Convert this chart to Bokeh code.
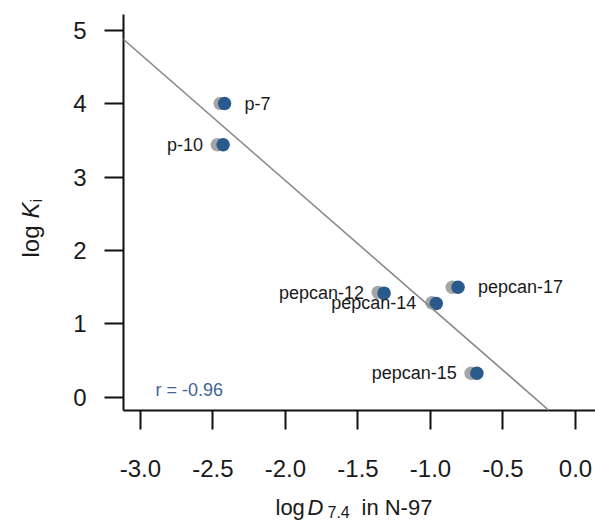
import math
from bokeh.plotting import figure
from bokeh.layouts import row, column
from bokeh.models import Slope, FixedTicker, ColumnDataSource, Range1d, Label
from bokeh.core.properties import value
from bokeh.embed import file_html
from bokeh.resources import INLINE

# ---------------- data ----------------
names = ["p-7", "p-10", "pepcan-12", "pepcan-14", "pepcan-17", "pepcan-15"]
blue_x = [-2.42, -2.43, -1.32, -0.96, -0.81, -0.68]
blue_y = [4.00, 3.44, 1.42, 1.28, 1.50, 0.33]
grey_x = [-2.45, -2.47, -1.36, -0.99, -0.85, -0.72]
grey_y = [4.00, 3.44, 1.43, 1.29, 1.50, 0.33]
label_side = ["right", "left", "left", "left", "right", "left"]

fit_slope = -1.72
fit_intercept = -0.49
r_text = "r = -0.96"

x_ticks = [-3.0, -2.5, -2.0, -1.5, -1.0, -0.5, 0.0]
x_tick_labels = ["-3.0", "-2.5", "-2.0", "-1.5", "-1.0", "-0.5", "0.0"]
y_ticks = [0, 1, 2, 3, 4, 5]
y_tick_labels = ["0", "1", "2", "3", "4", "5"]

x_title_parts = ["log", "D", "7.4", "in N-97"]
y_title_parts = ["log", "K", "i"]

FONT = "Liberation Sans"
BLUE = "#2a5a8c"
GREY = "#a5a5a5"
INK = "#1a1a1a"

LEFT_W = 70      # width of the strip holding the y title
BOTTOM_H = 32    # height of the strip holding the x title
W, H = 595, 520
TOP_H = H - BOTTOM_H


def blank(fig):
    fig.outline_line_color = None
    fig.grid.visible = False
    fig.border_fill_color = "white"
    fig.background_fill_color = "white"


# ---------------- main plot ----------------
p = figure(width=W - LEFT_W, height=TOP_H, output_backend="svg",
           toolbar_location=None,
           x_range=Range1d(-3.117, 0.138), y_range=Range1d(-0.177, 5.211),
           min_border_left=123 - LEFT_W, min_border_right=0, min_border_top=14,
           min_border_bottom=TOP_H - 410)
blank(p)

for ax in (p.xaxis[0], p.yaxis[0]):
    ax.axis_line_width = 2
    ax.axis_line_color = "#111111"
    ax.major_tick_line_width = 2
    ax.major_tick_line_color = "#111111"
    ax.major_tick_out = 19
    ax.major_tick_in = 0
    ax.minor_tick_line_color = None
    ax.major_label_text_font = FONT
    ax.major_label_text_font_size = "24px"
    ax.major_label_text_color = INK

p.xaxis.ticker = FixedTicker(ticks=x_ticks)
p.xaxis.major_label_overrides = {t: l for t, l in zip(x_ticks, x_tick_labels)}
p.xaxis.major_label_standoff = 30
p.yaxis.ticker = FixedTicker(ticks=y_ticks)
p.yaxis.major_label_overrides = {t: l for t, l in zip(y_ticks, y_tick_labels)}
p.yaxis.major_label_standoff = 18

# regression line
p.add_layout(Slope(gradient=fit_slope, y_intercept=fit_intercept,
                   line_color="#8a8a8a", line_width=1.6))

# points (grey shadow first, blue on top)
p.scatter(grey_x, grey_y, size=13.5, fill_color=GREY, line_color=None)
p.scatter(blue_x, blue_y, size=13.5, fill_color=BLUE, line_color=None)

# point labels
for side, off, align in (("right", 20, "left"), ("left", -20, "right")):
    idx = [i for i, s in enumerate(label_side) if s == side]
    src = ColumnDataSource(dict(x=[blue_x[i] for i in idx],
                                y=[blue_y[i] for i in idx],
                                t=[names[i] for i in idx]))
    p.text(x="x", y="y", text="t", source=src, x_offset=off, text_align=align,
           text_baseline="middle", text_font=value(FONT),
           text_font_size="18px", text_color=INK)

# r annotation
p.add_layout(Label(x=32, y=21, x_units="screen", y_units="screen", text=r_text,
                   text_font=FONT, text_font_size="18px", text_color="#3f6496",
                   text_baseline="middle", text_align="left"))

# ---------------- y title strip (left of the plot) ----------------
yf = figure(title=None, width=LEFT_W, height=TOP_H, frame_width=LEFT_W,
            frame_height=TOP_H, output_backend="svg", toolbar_location=None,
            x_axis_type=None, y_axis_type=None,
            x_range=Range1d(0, LEFT_W), y_range=Range1d(TOP_H, 0), min_border=0)
blank(yf)
y_title_pos = [(30, 243, "24px", "normal"), (30, 204, "24px", "italic"),
               (36, 188, "17px", "normal")]
for txt, (tx, ty, fs, st) in zip(y_title_parts, y_title_pos):
    yf.text(x=[tx], y=[ty], text=[txt], angle=math.pi / 2, text_align="left",
            text_baseline="middle", text_font=value(FONT),
            text_font_size=fs, text_font_style=st, text_color=INK)

# ---------------- x title strip (full width, bottom) ----------------
xf = figure(title=None, width=W, height=BOTTOM_H, frame_width=W,
            frame_height=BOTTOM_H, output_backend="svg", toolbar_location=None,
            x_axis_type=None, y_axis_type=None,
            x_range=Range1d(0, W), y_range=Range1d(H, TOP_H), min_border=0)
blank(xf)
x_title_pos = [(275, 507, "22px", "normal"), (307, 507, "22px", "italic"),
               (327, 511, "16px", "normal"), (361, 507, "22px", "normal")]
for txt, (tx, ty, fs, st) in zip(x_title_parts, x_title_pos):
    xf.text(x=[tx], y=[ty], text=[txt], text_align="left",
            text_baseline="middle", text_font=value(FONT),
            text_font_size=fs, text_font_style=st, text_color=INK)

layout = column(row(yf, p, spacing=0), xf, spacing=0)
open("out.html", "w").write(file_html(layout, INLINE))
